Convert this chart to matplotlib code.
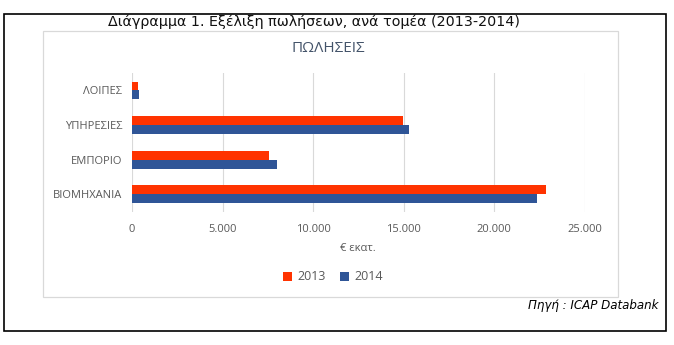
import matplotlib.pyplot as plt
import numpy as np
from matplotlib.patches import Rectangle
from matplotlib.ticker import FuncFormatter

# sales per sector, million euro
sectors = ['ΒΙΟΜΗΧΑΝΙΑ', 'ΕΜΠΟΡΙΟ', 'ΥΠΗΡΕΣΙΕΣ', 'ΛΟΙΠΕΣ']
sales_2013 = [22850, 7550, 14950, 320]
sales_2014 = [22350, 7990, 15290, 390]
years = ['2013', '2014']
x_ticks = [0, 5000, 10000, 15000, 20000, 25000]

red = '#ff3300'
blue = '#2f5597'
grey_txt = '#595959'

W, H = 674, 345
fig = plt.figure(figsize=(W / 100, H / 100), dpi=100)

# outer black frame and inner chart frame
fig.patches.append(Rectangle((4 / W, 1 - 331 / H), 662 / W, 317 / H,
                             transform=fig.transFigure, fill=False,
                             edgecolor='black', linewidth=1.2))
fig.patches.append(Rectangle((43 / W, 1 - 297 / H), 575 / W, 266 / H,
                             transform=fig.transFigure, fill=False,
                             edgecolor='#d9d9d9', linewidth=0.9))

fig.text(314 / W, 1 - 22 / H, 'Διάγραμμα 1. Εξέλιξη πωλήσεων, ανά τομέα (2013-2014)',
         ha='center', va='center', fontsize=10.3, family='DejaVu Sans',
         color='#111111')
fig.text(328 / W, 1 - 49 / H, 'ΠΩΛΗΣΕΙΣ', ha='center', va='center',
         fontsize=11, family='Open Sans', color='#44546a', weight='medium')
fig.text(658 / W, 1 - 306 / H, 'Πηγή : ICAP Databank', ha='right', va='center',
         fontsize=8.6, family='DejaVu Sans', style='italic', color='black')

ax = fig.add_axes([132 / W, 1 - 211.6 / H, 452.5 / W, 138.4 / H])
y = np.arange(len(sectors))
h = 0.26
ax.barh(y + h / 2, sales_2013, height=h, color=red, label=years[0], zorder=3)
ax.barh(y - h / 2, sales_2014, height=h, color=blue, label=years[1], zorder=3)

ax.set_ylim(-0.5, len(sectors) - 0.5)
ax.set_xlim(0, 25000)
ax.set_xticks(x_ticks)
ax.xaxis.set_major_formatter(FuncFormatter(lambda v, p: f'{int(v):,}'.replace(',', '.')))
ax.set_yticks(y)
ax.set_yticklabels(sectors)
ax.grid(axis='x', color='#d9d9d9', linewidth=0.8, zorder=0)
for s in ax.spines.values():
    s.set_visible(False)
ax.tick_params(length=0, labelsize=8, labelcolor=grey_txt, pad=9)
ax.tick_params(axis='y', pad=7)
for t in ax.get_xticklabels() + ax.get_yticklabels():
    t.set_family('Open Sans')

ax.set_xlabel('€ εκατ.', fontsize=8, color=grey_txt, family='Open Sans', labelpad=6)

leg = fig.legend(loc='center', bbox_to_anchor=(333 / W, 1 - 277 / H), ncol=2,
                 frameon=False, handlelength=0.7, handleheight=0.7,
                 columnspacing=1.2, handletextpad=0.4,
                 prop={'family': 'Open Sans', 'size': 9})
for t in leg.get_texts():
    t.set_color(grey_txt)

fig.savefig('out.png', dpi=100, facecolor='white')
